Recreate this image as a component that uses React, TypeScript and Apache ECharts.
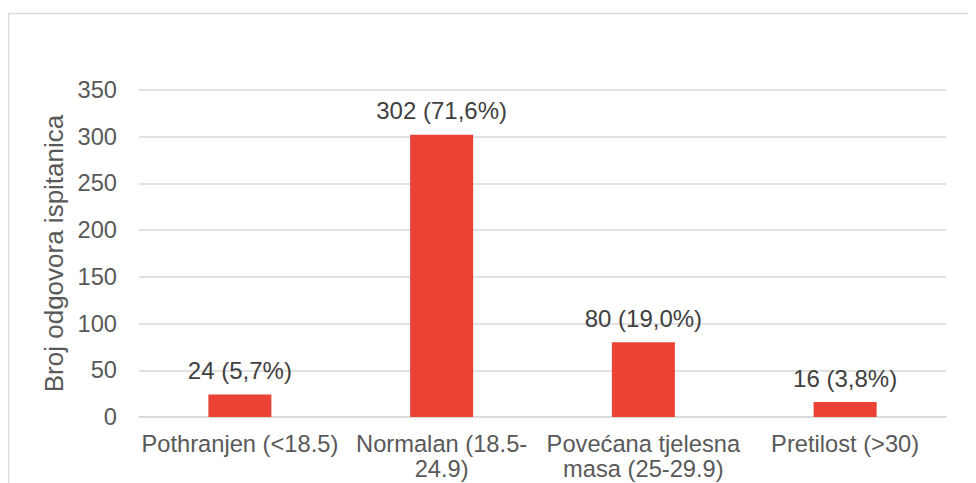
import React, { useEffect, useRef } from "react";
import * as echarts from "echarts";

const categories = ["Pothranjen (<18.5)", "Normalan (18.5-\n24.9)", "Povećana tjelesna\nmasa (25-29.9)", "Pretilost (>30)"];
const values = [24, 302, 80, 16];
const percents = ["5,7", "71,6", "19,0", "3,8"];
const yTicks = { min: 0, max: 350, interval: 50 };
const yTitle = "Broj odgovora ispitanica";

const FONT = '"Liberation Sans", Arial, sans-serif';

export default function App() {
  const ref = useRef<HTMLDivElement>(null);
  useEffect(() => {
    if (!ref.current) return;
    const chart = echarts.init(ref.current, undefined, { renderer: "svg" });
    chart.setOption({
      animation: false,
      backgroundColor: "#ffffff",
      textStyle: { fontFamily: FONT },
      graphic: [
        {
          type: "rect",
          silent: true,
          shape: { x: 0.5, y: 5.5, width: 1200, height: 1200 },
          style: { fill: "none", stroke: "#d9d9d9", lineWidth: 1.5 },
        },
      ],
      grid: { left: 131, right: 30, top: 82, bottom: 66, containLabel: false },
      xAxis: {
        type: "category",
        data: categories,
        axisLine: { show: true, lineStyle: { color: "#d9d9d9", width: 1.5 } },
        axisTick: { show: false },
        axisLabel: {
          color: "#595959",
          fontSize: 23.7,
          fontFamily: FONT,
          margin: 14,
          lineHeight: 25,
          interval: 0,
        },
      },
      yAxis: {
        type: "value",
        min: yTicks.min,
        max: yTicks.max,
        interval: yTicks.interval,
        name: yTitle,
        nameLocation: "middle",
        nameGap: 70,
        nameRotate: 90,
        nameTextStyle: { color: "#595959", fontSize: 26, fontFamily: FONT },
        axisLine: { show: false },
        axisTick: { show: false },
        splitLine: { lineStyle: { color: "#d9d9d9", width: 1.5 } },
        axisLabel: { color: "#595959", fontSize: 23.7, fontFamily: FONT, margin: 22 },
      },
      series: [
        {
          type: "bar",
          data: values,
          barWidth: 63,
          itemStyle: { color: "#EA4335" },
          label: {
            show: true,
            position: "top",
            distance: 12,
            color: "#404040",
            fontSize: 24,
            fontFamily: FONT,
            formatter: (p: any) => `${values[p.dataIndex]} (${percents[p.dataIndex]}%)`,
          },
        },
      ],
    });
    return () => chart.dispose();
  }, []);
  return <div ref={ref} style={{ width: 968, height: 475 }} />;
}
